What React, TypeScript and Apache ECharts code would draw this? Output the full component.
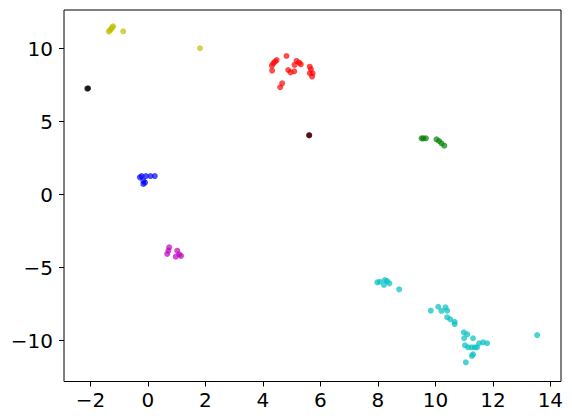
import React, { useEffect, useRef } from "react";
import * as echarts from "echarts";

const xTicks = [-2, 0, 2, 4, 6, 8, 10, 12, 14];
const yTicks = [-10, -5, 0, 5, 10];

const yellowPts: [number, number][] = [
  [-1.36, 11.16], [-1.32, 11.25], [-1.28, 11.35], [-1.24, 11.45], [-1.21, 11.52],
  [-0.86, 11.18], [1.81, 10.02],
];
const blackPts: [number, number][] = [
  [-2.11, 7.25], [-2.08, 7.28], [5.61, 4.05],
];
const redPts: [number, number][] = [
  [4.82, 9.49], [4.48, 9.21], [4.42, 9.1], [4.36, 8.99], [4.31, 8.83], [4.32, 8.49],
  [5.17, 9.15], [5.26, 9.03], [5.32, 8.92], [5.1, 8.88], [4.88, 8.53], [4.96, 8.37],
  [5.09, 8.44], [5.63, 8.76], [5.67, 8.58], [5.63, 8.31], [5.73, 8.31], [5.71, 8.08],
  [4.67, 7.62], [4.6, 7.35], [5.61, 4.08],
];
const greenPts: [number, number][] = [
  [9.52, 3.85], [9.58, 3.85], [9.67, 3.85], [10.04, 3.78], [10.13, 3.67],
  [10.21, 3.51], [10.31, 3.35],
];
const bluePts: [number, number][] = [
  [-0.22, 1.27], [-0.28, 1.18], [-0.07, 1.27], [0.09, 1.27], [0.24, 1.27],
  [-0.16, 0.95], [-0.16, 0.73], [-0.1, 0.82],
];
const magentaPts: [number, number][] = [
  [0.74, -3.61], [0.71, -3.84], [0.67, -4.07], [1.02, -3.84], [1.09, -4.09],
  [0.97, -4.25], [1.15, -4.2],
];
const cyanPts: [number, number][] = [
  [7.98, -6.01], [8.07, -5.97], [8.24, -5.85], [8.32, -5.92], [8.4, -6.08],
  [8.21, -6.19], [8.74, -6.49], [9.84, -7.95], [10.1, -7.68], [10.21, -7.97],
  [10.35, -7.72], [10.41, -7.95], [10.41, -8.4], [10.52, -8.54], [10.67, -8.71],
  [10.67, -8.88], [10.99, -9.43], [11.11, -9.57], [11.0, -9.84], [11.31, -9.84],
  [11.03, -10.32], [11.14, -10.46], [11.26, -10.46], [11.37, -10.46], [11.45, -10.46],
  [11.52, -10.18], [11.66, -10.12], [11.8, -10.18], [11.31, -10.94], [11.27, -11.05],
  [11.06, -11.49], [13.54, -9.62],
];

const fmt = (v: number) => (v < 0 ? "\u2212" + Math.abs(v) : String(v));

export default function App() {
  const ref = useRef<HTMLDivElement>(null);
  useEffect(() => {
    const chart = echarts.init(ref.current!, null, { renderer: "svg" });
    const groups: [string, [number, number][]][] = [
      ["#bfbf00", yellowPts],
      ["#ff0000", redPts],
      ["#008000", greenPts],
      ["#0000ff", bluePts],
      ["#bf00bf", magentaPts],
      ["#00bfbf", cyanPts],
      ["#000000", blackPts],
    ];
    const axisCommon = {
      axisLine: { show: false, onZero: false },
      splitLine: { show: false },
      axisTick: { show: true, inside: false, length: 5, lineStyle: { color: "#000", width: 1 } },
      axisLabel: {
        color: "#000",
        fontSize: 20,
        fontFamily: "DejaVu Sans",
        formatter: (v: number) => fmt(v),
      },
    };
    chart.setOption({
      animation: false,
      grid: {
        left: 64,
        top: 10,
        right: 11,
        bottom: 37.5,
        show: true,
        borderColor: "#000",
        borderWidth: 1,
        backgroundColor: "#fff",
      },
      xAxis: {
        type: "value",
        min: -2.92,
        max: 14.37,
        ...axisCommon,
        axisTick: { ...axisCommon.axisTick, customValues: xTicks },
        axisLabel: { ...axisCommon.axisLabel, customValues: xTicks, margin: 8 },
      },
      yAxis: {
        type: "value",
        min: -12.8,
        max: 12.64,
        ...axisCommon,
        axisTick: { ...axisCommon.axisTick, customValues: yTicks },
        axisLabel: { ...axisCommon.axisLabel, customValues: yTicks, margin: 11 },
      },
      series: groups.map(([color, pts]) => ({
        type: "scatter",
        data: pts,
        symbolSize: 6,
        itemStyle: { color, opacity: 0.7 },
      })),
    });
    return () => chart.dispose();
  }, []);
  return (
    <div
      ref={ref}
      style={{ position: "absolute", left: 0, top: 0, width: 572, height: 419, background: "#fff" }}
    />
  );
}
